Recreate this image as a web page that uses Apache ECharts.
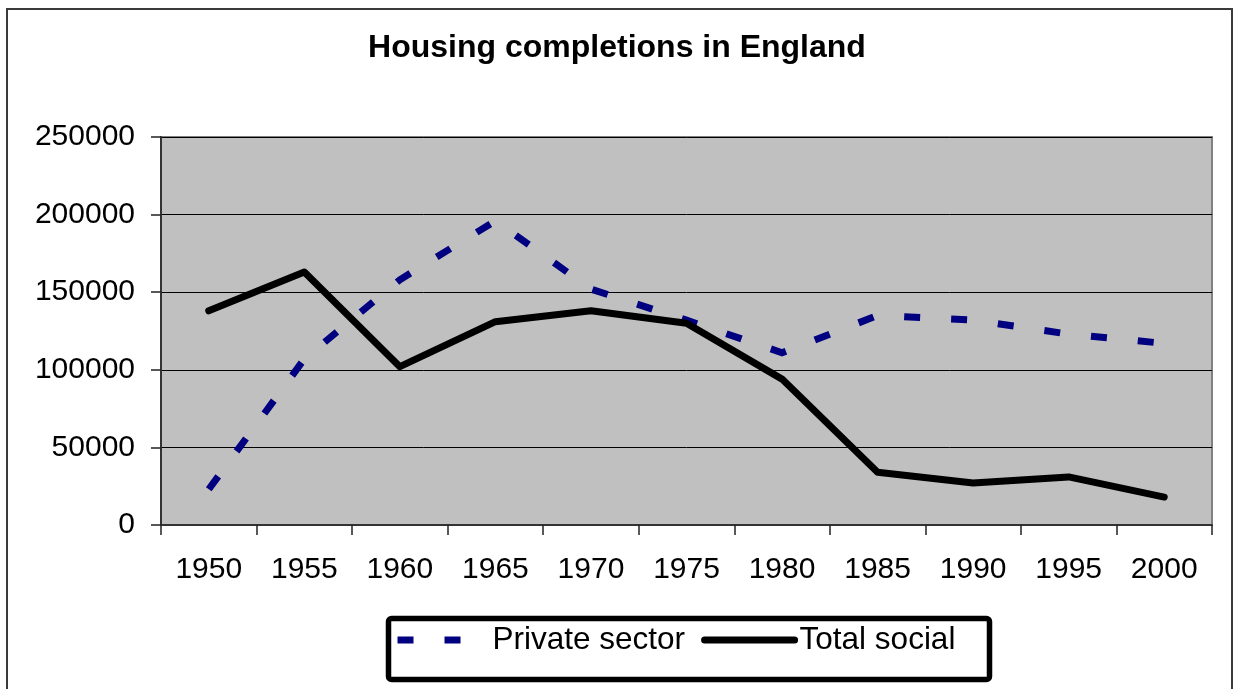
<!DOCTYPE html>
<html>
<head>
<meta charset="utf-8">
<title>Housing completions in England</title>
<script src="https://cdn.jsdelivr.net/npm/echarts@6/dist/echarts.min.js"></script>
<style>
  html, body { margin: 0; padding: 0; background: #ffffff; }
  #chart { width: 1234px; height: 689px; }
</style>
</head>
<body>
<div id="chart"></div>
<script>
// Completion years (category axis)
const years = ['1950', '1955', '1960', '1965', '1970', '1975', '1980', '1985', '1990', '1995', '2000'];

// Dwellings completed per year
const privateSector = [23000, 107000, 158000, 196000, 152000, 132000, 111000, 135000, 132000, 123000, 117000];
const totalSocial = [138000, 163000, 102000, 131000, 138000, 130000, 94000, 34000, 27000, 31000, 18000];

// Value axis range
const yMin = 0;
const yMax = 250000;
const yStep = 50000;

const FONT = '"Liberation Sans", Arial, sans-serif';
const LINE_W = 7;

const chart = echarts.init(document.getElementById('chart'), null, { renderer: 'canvas' });

chart.setOption({
  backgroundColor: '#ffffff',
  animation: false,
  title: {
    text: 'Housing completions in England',
    left: 'center',
    top: 27,
    textStyle: { fontFamily: FONT, fontSize: 32, fontWeight: 'bold', color: '#000' }
  },
  grid: {
    left: 161, top: 137, right: 22, bottom: 164,
    show: true,
    backgroundColor: '#C0C0C0',
    borderColor: '#808080',
    borderWidth: 2,
    containLabel: false
  },
  xAxis: {
    type: 'category',
    data: years,
    boundaryGap: true,
    axisLine: { show: true, lineStyle: { color: '#333', width: 2 } },
    axisTick: { show: true, alignWithLabel: false, length: 10, lineStyle: { color: '#222', width: 1.5 } },
    axisLabel: { fontFamily: FONT, fontSize: 30, color: '#000', margin: 30 },
    splitLine: { show: false }
  },
  yAxis: {
    type: 'value',
    min: yMin, max: yMax, interval: yStep,
    axisLine: { show: true, lineStyle: { color: '#333', width: 2 } },
    axisTick: { show: true, length: 10, lineStyle: { color: '#222', width: 1.5 } },
    axisLabel: {
      fontFamily: FONT, fontSize: 30, color: '#000', margin: 26,
      formatter: (v) => String(v)
    },
    splitLine: { show: true, lineStyle: { color: '#000', width: 1 } }
  },
  legend: {
    left: 394,
    top: 624,
    itemWidth: 90,
    itemHeight: 14,
    itemGap: 16,
    padding: 0,
    itemStyle: { opacity: 0 },
    lineStyle: { width: LINE_W, type: 'inherit', cap: 'inherit', color: 'inherit' },
    textStyle: { fontFamily: FONT, fontSize: 31.5, color: '#000' },
    data: ['Private sector', 'Total social']
  },
  series: [
    {
      name: 'Private sector',
      type: 'line',
      data: privateSector,
      symbol: 'none',
      showSymbol: false,
      lineStyle: { color: '#000080', width: LINE_W, type: [16, 31], cap: 'butt', join: 'miter' },
      itemStyle: { color: '#000080' },
      z: 3
    },
    {
      name: 'Total social',
      type: 'line',
      data: totalSocial,
      symbol: 'none',
      showSymbol: false,
      lineStyle: { color: '#000', width: LINE_W, type: 'solid', cap: 'round', join: 'round' },
      itemStyle: { color: '#000' },
      z: 4
    }
  ],
  graphic: [
    {
      type: 'rect',
      silent: true,
      shape: { x: 7, y: 9, width: 1225, height: 700 },
      style: { fill: 'none', stroke: '#3a3a3a', lineWidth: 2 },
      z: 0
    },
    {
      type: 'rect',
      silent: true,
      shape: { x: 388.5, y: 618.5, width: 601, height: 61, r: 3 },
      style: { fill: 'none', stroke: '#000', lineWidth: 5.5 },
      z: 10
    }
  ]
});
</script>
</body>
</html>
